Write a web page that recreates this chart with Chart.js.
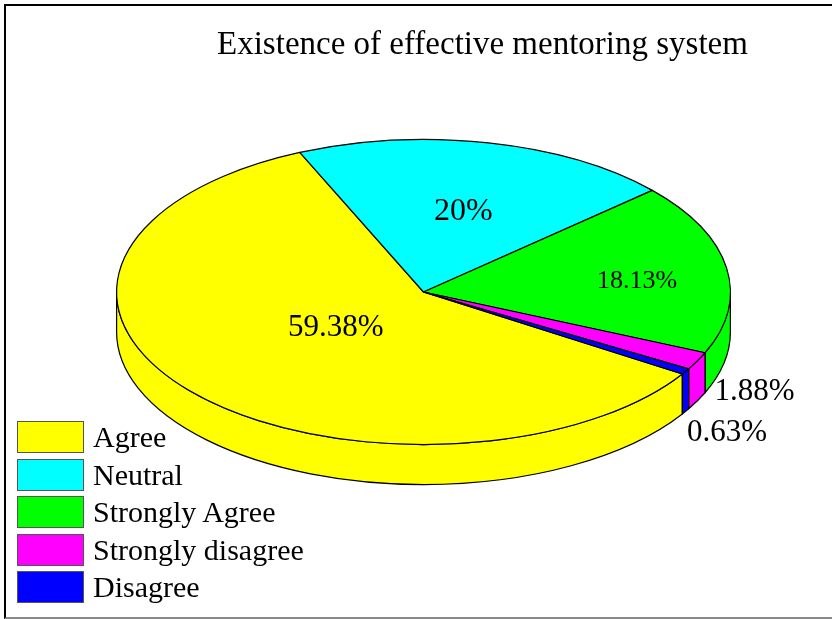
<!DOCTYPE html>
<html>
<head>
<meta charset="utf-8">
<script src="https://cdn.jsdelivr.net/npm/chart.js@4.4.0/dist/chart.umd.min.js"></script>
<style>
html,body{margin:0;padding:0;background:#fff;}
#wrap{position:relative;width:832px;height:619px;overflow:hidden;font-family:"Liberation Serif","Times New Roman",serif;color:#000;}
#frame{position:absolute;left:4px;top:4px;width:840px;height:615px;box-sizing:border-box;border-top:2px solid #000;border-left:2px solid #000;border-bottom:2px solid #8a8a8a;}
#chart{position:absolute;left:0;top:0;}
#title{position:absolute;left:0;top:27px;width:965px;text-align:center;font-size:33px;line-height:33px;white-space:nowrap;}
.lg-box{position:absolute;left:17px;width:67px;height:32px;box-sizing:border-box;border:1px solid #555;}
.lg-text{position:absolute;left:93px;font-size:30px;line-height:32px;white-space:nowrap;}
</style>
</head>
<body>
<div id="wrap">
  <canvas id="chart" width="832" height="619"></canvas>
  <div id="frame"></div>
  <div id="title">Existence of effective mentoring system</div>
  <div id="legend"></div>
</div>
<script>
// ---- data ----
const categories = ['Agree', 'Neutral', 'Strongly Agree', 'Strongly disagree', 'Disagree'];
const percentages = [59.38, 20, 18.13, 1.88, 0.63];
const percentLabels = ['59.38%', '20%', '18.13%', '1.88%', '0.63%'];
const sliceColors = ['#ffff00', '#00ffff', '#00ff00', '#ff00ff', '#0000ff'];

// ---- styling / placement (not data) ----
const SQUASH = 0.497;      // vertical squash of the pie top
const TOP_CY = 292;        // screen y of the top face centre
const DEPTH = 40;          // thickness of the pie
const labelRadius = [0.37, 0.54, 0.70, 1.26, 1.352];
const labelAngleShift = [1.3, 1.7, 3.2, 4.3, 11.6];
const labelFontSize = [31, 32, 26, 31, 31];

const pie3d = {
  id: 'pie3d',
  beforeDatasetsDraw(chart) {
    const ctx = chart.ctx;
    const meta = chart.getDatasetMeta(0);
    const base = ctx.getTransform();
    const first = meta.data[0];
    const cx = first.x, cy = first.y;
    // side walls (front half only)
    ctx.save();
    ctx.lineWidth = 1.2;
    ctx.strokeStyle = '#000';
    ctx.lineJoin = 'round';
    meta.data.forEach((arc, i) => {
      const p = arc.getProps(['startAngle', 'endAngle', 'outerRadius'], true);
      const R = p.outerRadius;
      for (const off of [-2 * Math.PI, 0, 2 * Math.PI, 4 * Math.PI]) {
        const a0 = Math.max(p.startAngle, off);
        const a1 = Math.min(p.endAngle, off + Math.PI);
        if (a1 - a0 <= 1e-6) continue;
        ctx.beginPath();
        ctx.ellipse(cx, TOP_CY, R, R * SQUASH, 0, a0, a1, false);
        ctx.ellipse(cx, TOP_CY + DEPTH, R, R * SQUASH, 0, a1, a0, true);
        ctx.closePath();
        ctx.fillStyle = sliceColors[i];
        ctx.fill();
        ctx.stroke();
      }
    });
    ctx.restore();
    // squash the top face; keep strokes uniform
    ctx.save();
    ctx.translate(0, TOP_CY);
    ctx.scale(1, SQUASH);
    ctx.translate(0, -cy);
    const proto = CanvasRenderingContext2D.prototype.stroke;
    ctx.stroke = function (...a) {
      this.save();
      this.setTransform(base);
      proto.apply(this, a);
      this.restore();
    };
  },
  afterDatasetsDraw(chart) {
    const ctx = chart.ctx;
    delete ctx.stroke;
    ctx.restore();
    const meta = chart.getDatasetMeta(0);
    ctx.save();
    ctx.fillStyle = '#000';
    ctx.textAlign = 'center';
    ctx.textBaseline = 'middle';
    meta.data.forEach((arc, i) => {
      const p = arc.getProps(['x', 'startAngle', 'endAngle', 'outerRadius'], true);
      const mid = (p.startAngle + p.endAngle) / 2 + labelAngleShift[i] * Math.PI / 180;
      const r = p.outerRadius * labelRadius[i];
      const x = p.x + r * Math.cos(mid);
      const y = TOP_CY + r * SQUASH * Math.sin(mid);
      ctx.font = labelFontSize[i] + 'px "Liberation Serif", "Times New Roman", serif';
      ctx.fillText(percentLabels[i], x, y);
    });
    ctx.restore();
  }
};

new Chart(document.getElementById('chart'), {
  type: 'pie',
  data: {
    labels: categories,
    datasets: [{
      data: percentages,
      backgroundColor: sliceColors,
      borderColor: '#000',
      borderWidth: 1.2,
      clip: false
    }]
  },
  options: {
    responsive: false,
    devicePixelRatio: 1,
    animation: false,
    events: [],
    rotation: 122.5,
    layout: { padding: { left: 116, right: 101, top: 2, bottom: 2 } },
    plugins: {
      legend: { display: false },
      title: { display: false },
      tooltip: { enabled: false }
    }
  },
  plugins: [pie3d]
});

// legend built from the category and colour arrays
const legend = document.getElementById('legend');
categories.forEach((name, i) => {
  const top = 421 + i * 37.5;
  const box = document.createElement('div');
  box.className = 'lg-box';
  box.style.top = top + 'px';
  box.style.background = sliceColors[i];
  legend.appendChild(box);
  const t = document.createElement('div');
  t.className = 'lg-text';
  t.style.top = top + 'px';
  t.textContent = name;
  legend.appendChild(t);
});
</script>
</body>
</html>
